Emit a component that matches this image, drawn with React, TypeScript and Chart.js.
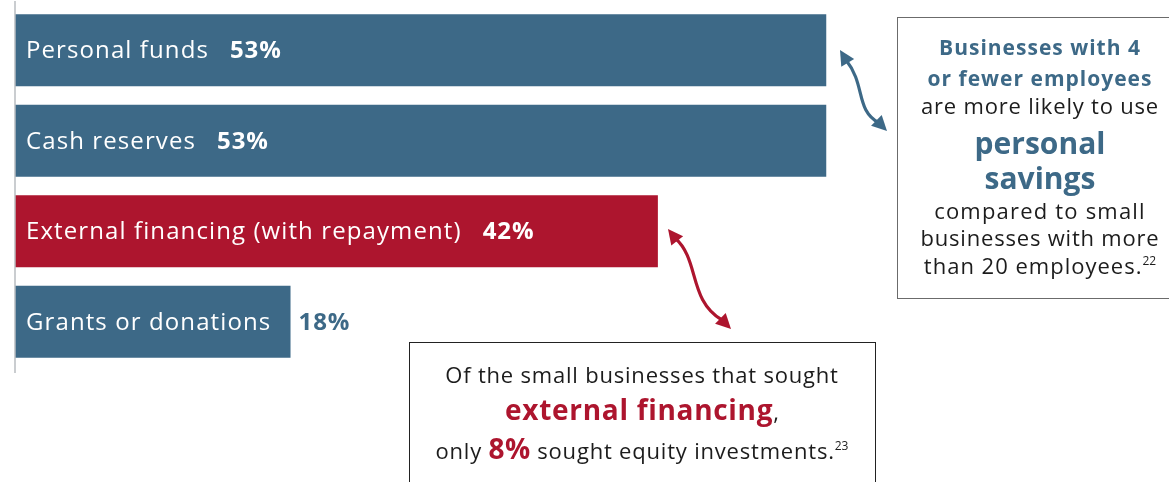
import React, { useEffect, useRef } from "react";
import { Chart, registerables } from "chart.js";

Chart.register(...registerables);

// ---- data ----
const categories = [
  "Personal funds",
  "Cash reserves",
  "External financing (with repayment)",
  "Grants or donations",
];
const values = [53, 53, 42, 18];
const valueLabels = ["53%", "53%", "42%", "18%"];

const BLUE = "#3d6987";
const RED = "#ad152e";
const INK = "#1c1c1c";
const barColors = [BLUE, BLUE, RED, BLUE];

const FONT = '"Open Sans", "Noto Sans", sans-serif';

type Seg = { t: string; w: number; size: number; c: string; ls: number; sup?: boolean };

// annotation texts
const note1Lines: Seg[][] = [
  [{ t: "Businesses with 4", w: 700, size: 21, c: BLUE, ls: 1 }],
  [{ t: "or fewer employees", w: 700, size: 21, c: BLUE, ls: 1 }],
  [{ t: "are more likely to use", w: 400, size: 22, c: INK, ls: 0.8 }],
  [{ t: "personal", w: 700, size: 30, c: BLUE, ls: 0 }],
  [{ t: "savings", w: 700, size: 30, c: BLUE, ls: 0 }],
  [{ t: "compared to small", w: 400, size: 22, c: INK, ls: 1.2 }],
  [{ t: "businesses with more", w: 400, size: 22, c: INK, ls: 0.8 }],
  [
    { t: "than 20 employees.", w: 400, size: 22, c: INK, ls: 1 },
    { t: "22", w: 400, size: 12, c: INK, ls: 0, sup: true },
  ],
];
const note1Baselines = [55, 86, 114, 154, 189, 219, 246, 274];

const note2Lines: Seg[][] = [
  [{ t: "Of the small businesses that sought", w: 400, size: 22, c: INK, ls: 0.8 }],
  [
    { t: "external financing", w: 700, size: 28, c: RED, ls: 0.7 },
    { t: ",", w: 400, size: 22, c: INK, ls: 0 },
  ],
  [
    { t: "only ", w: 400, size: 22, c: INK, ls: 0.8 },
    { t: "8%", w: 700, size: 28, c: RED, ls: 0.5 },
    { t: " sought equity investments.", w: 400, size: 22, c: INK, ls: 0.8 },
    { t: "23", w: 400, size: 12, c: INK, ls: 0, sup: true },
  ],
];
const note2Baselines = [383, 420, 459];

function setFont(ctx: CanvasRenderingContext2D, w: number, size: number, ls: number) {
  ctx.font = `${w} ${size}px ${FONT}`;
  (ctx as any).letterSpacing = `${ls}px`;
}

function drawRichLine(ctx: CanvasRenderingContext2D, segs: Seg[], cx: number, by: number) {
  let total = 0;
  const widths = segs.map((s) => {
    setFont(ctx, s.w, s.size, s.ls);
    const m = ctx.measureText(s.t).width;
    total += m;
    return m;
  });
  let x = cx - total / 2;
  segs.forEach((s, i) => {
    setFont(ctx, s.w, s.size, s.ls);
    ctx.fillStyle = s.c;
    ctx.fillText(s.t, x, s.sup ? by - 9 : by);
    x += widths[i];
  });
  (ctx as any).letterSpacing = "0px";
}

function arrowHead(ctx: CanvasRenderingContext2D, tipX: number, tipY: number, fromX: number, fromY: number, color: string) {
  const ang = Math.atan2(tipY - fromY, tipX - fromX);
  const len = 15;
  const half = 7.5;
  const bx = tipX - Math.cos(ang) * len;
  const by = tipY - Math.sin(ang) * len;
  ctx.beginPath();
  ctx.moveTo(tipX, tipY);
  ctx.lineTo(bx + Math.cos(ang + Math.PI / 2) * half, by + Math.sin(ang + Math.PI / 2) * half);
  ctx.lineTo(bx - Math.cos(ang + Math.PI / 2) * half, by - Math.sin(ang + Math.PI / 2) * half);
  ctx.closePath();
  ctx.fillStyle = color;
  ctx.fill();
}

function curvedArrow(
  ctx: CanvasRenderingContext2D,
  p0: [number, number],
  c1: [number, number],
  c2: [number, number],
  p1: [number, number],
  tipA: [number, number],
  tipB: [number, number],
  color: string
) {
  ctx.save();
  ctx.strokeStyle = color;
  ctx.lineWidth = 3.2;
  ctx.lineCap = "round";
  ctx.beginPath();
  ctx.moveTo(p0[0], p0[1]);
  ctx.bezierCurveTo(c1[0], c1[1], c2[0], c2[1], p1[0], p1[1]);
  ctx.stroke();
  arrowHead(ctx, tipA[0], tipA[1], p0[0] + (p0[0] - tipA[0]) * 0.2, p0[1] + (p0[1] - tipA[1]) * 0.2, color);
  arrowHead(ctx, tipB[0], tipB[1], p1[0] - (tipB[0] - p1[0]) * 0.2, p1[1] - (tipB[1] - p1[1]) * 0.2, color);
  ctx.restore();
}

const labelPlugin = {
  id: "barLabels",
  afterDatasetsDraw(chart: any) {
    const ctx: CanvasRenderingContext2D = chart.ctx;
    const meta = chart.getDatasetMeta(0);
    meta.data.forEach((bar: any, i: number) => {
      const { x, y, base } = bar.getProps(["x", "y", "base"], true);
      const startX = base + 11;
      ctx.save();
      ctx.textBaseline = "middle";
      ctx.textAlign = "left";
      setFont(ctx, 400, 24, 1.1);
      ctx.fillStyle = "#ffffff";
      ctx.fillText(categories[i], startX, y + 1);
      const w = ctx.measureText(categories[i]).width;
      let px = startX + w + 21;
      setFont(ctx, 700, 24, 0.9);
      const pw = ctx.measureText(valueLabels[i]).width;
      const inside = px + pw < x - 4;
      if (!inside) px = Math.max(px, x + 8);
      ctx.fillStyle = inside ? "#ffffff" : barColors[i];
      ctx.fillText(valueLabels[i], px, y + 1);
      (ctx as any).letterSpacing = "0px";
      ctx.restore();
    });
  },
};

const decorPlugin = {
  id: "decor",
  afterDraw(chart: any) {
    const ctx: CanvasRenderingContext2D = chart.ctx;
    const area = chart.chartArea;
    ctx.save();
    // axis line
    ctx.strokeStyle = "#b9bdc1";
    ctx.lineWidth = 1.5;
    ctx.beginPath();
    ctx.moveTo(area.left, 1);
    ctx.lineTo(area.left, 373);
    ctx.stroke();

    // note box 1
    ctx.strokeStyle = "#6b6b6b";
    ctx.lineWidth = 1;
    ctx.strokeRect(897.5, 17.5, 290, 281);
    ctx.textBaseline = "alphabetic";
    ctx.textAlign = "left";
    note1Lines.forEach((ln, i) => drawRichLine(ctx, ln, 1040, note1Baselines[i]));

    // note box 2
    ctx.strokeStyle = "#222222";
    ctx.strokeRect(409.5, 342.5, 466, 160);
    note2Lines.forEach((ln, i) => drawRichLine(ctx, ln, 642, note2Baselines[i]));

    // arrows
    curvedArrow(ctx, [846, 60], [866, 85], [855, 110], [879, 123], [840, 50], [887, 131], BLUE);
    curvedArrow(ctx, [675, 238], [700, 260], [688, 300], [722, 320], [668, 229], [731, 329], RED);
    ctx.restore();
  },
};

export default function App() {
  const ref = useRef<HTMLCanvasElement | null>(null);
  useEffect(() => {
    if (!ref.current) return;
    const chart = new Chart(ref.current, {
      type: "bar",
      data: {
        labels: categories,
        datasets: [
          {
            data: values,
            backgroundColor: barColors,
            borderWidth: 0,
            barPercentage: 1,
            categoryPercentage: 0.795,
          },
        ],
      },
      options: {
        indexAxis: "y",
        responsive: false,
        animation: false,
        events: [],
        layout: { padding: { left: 15, right: 6, top: 5, bottom: 115 } },
        plugins: { legend: { display: false }, tooltip: { enabled: false } },
        scales: {
          x: { display: false, min: 0, max: 75 },
          y: { display: false },
        },
      },
      plugins: [labelPlugin, decorPlugin],
    });
    return () => chart.destroy();
  }, []);
  return (
    <div style={{ position: "absolute", left: 0, top: 0, width: 1169, height: 482, background: "#fff" }}>
      <canvas ref={ref} width={1169} height={482} />
    </div>
  );
}
